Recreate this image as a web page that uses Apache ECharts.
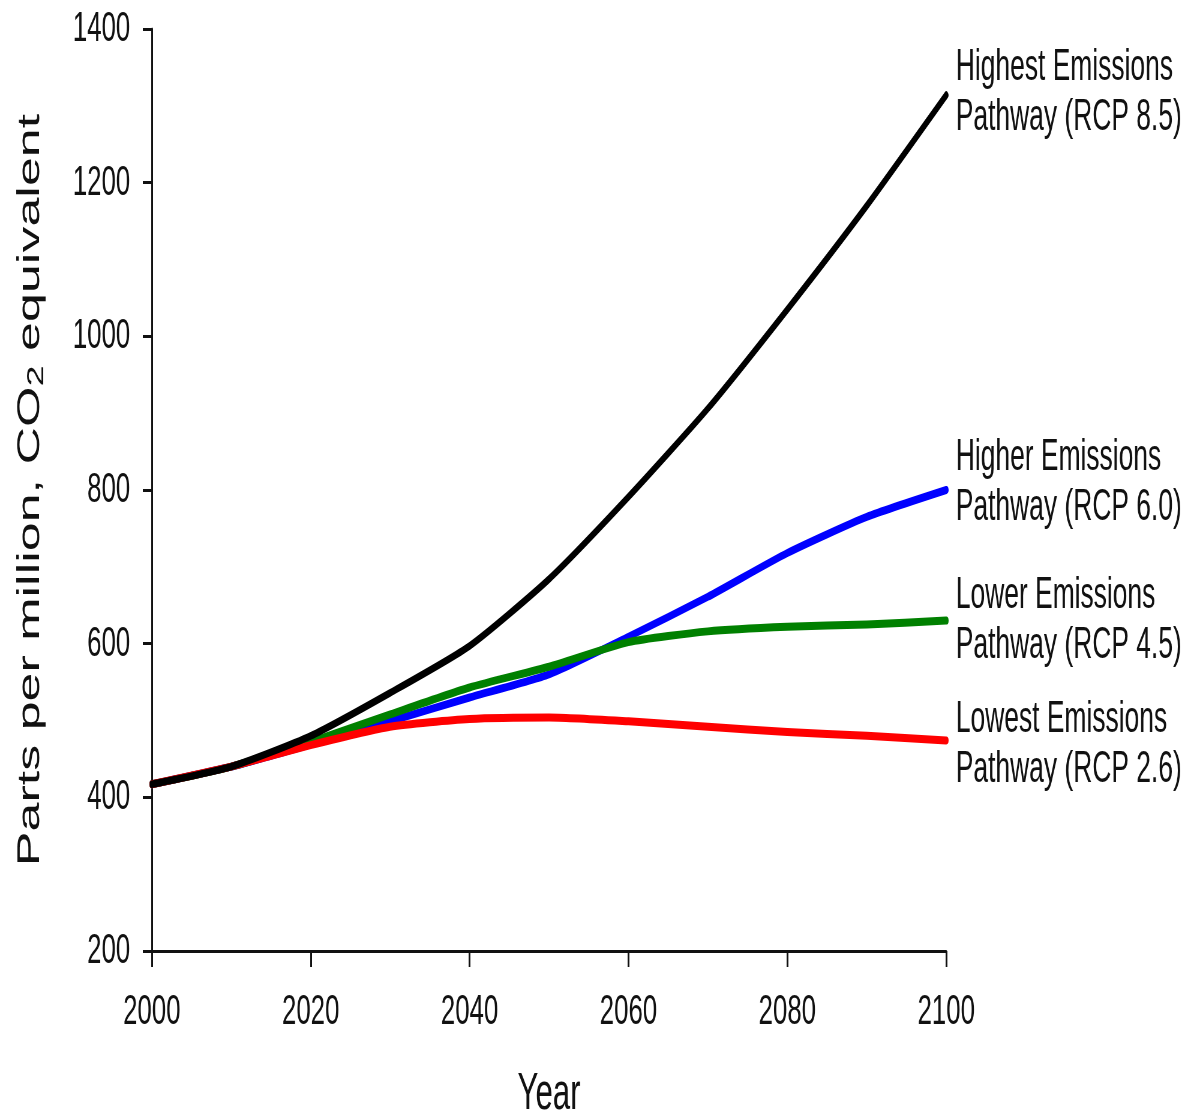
<!DOCTYPE html>
<html>
<head>
<meta charset="utf-8">
<script src="https://cdn.jsdelivr.net/npm/echarts@6/dist/echarts.min.js"></script>
<style>
html, body { margin: 0; padding: 0; overflow: hidden; background: #fff; width: 1191px; height: 1115px; }
#chart { width: 1985px; height: 1115px; transform: scaleX(0.6); transform-origin: 0 0; }
</style>
</head>
<body>
<div id="chart"></div>
<script>
// Data
const years = [2000, 2010, 2020, 2030, 2040, 2050, 2060, 2070, 2080, 2090, 2100];
const rcp85 = [417, 440, 480, 536, 597, 684, 791, 906, 1035, 1170, 1314];
const rcp60 = [417, 440, 469, 499, 530, 560, 609, 661, 718, 765, 800];
const rcp45 = [417, 440, 472, 508, 543, 570, 602, 616, 622, 625, 630];
const rcp26 = [417, 440, 468, 492, 502, 504, 499, 492, 485, 480, 474];
const seriesNames = [
  'Higher Emissions\nPathway (RCP 6.0)',
  'Lower Emissions\nPathway (RCP 4.5)',
  'Lowest Emissions\nPathway (RCP 2.6)',
  'Highest Emissions\nPathway (RCP 8.5)'
];
const yTicks = [200, 400, 600, 800, 1000, 1200, 1400];
const xTicks = [2000, 2020, 2040, 2060, 2080, 2100];

const FONT = "'Liberation Sans', Arial, sans-serif";
const chart = echarts.init(document.getElementById('chart'));

function pairs(vals) { return years.map((y, i) => [y, vals[i]]); }
function mkSeries(name, vals, color, width, dy) {
  return {
    name: name,
    type: 'line',
    data: pairs(vals),
    showSymbol: false,
    symbol: 'none',
    smooth: 0.2,
    lineStyle: { color: color, width: width, cap: 'round', join: 'round' },
    endLabel: {
      show: true,
      formatter: name,
      fontFamily: FONT,
      fontSize: 44,
      lineHeight: 50,
      color: '#111',
      distance: 16,
      offset: [0, dy],
      align: 'left'
    },
    emphasis: { disabled: true }
  };
}

chart.setOption({
  animation: false,
  backgroundColor: '#fff',
  grid: { left: 253, right: 408, top: 29, bottom: 164, containLabel: false, outerBoundsMode: 'none' },
  xAxis: {
    type: 'value',
    min: xTicks[0],
    max: xTicks[xTicks.length - 1],
    interval: 20,
    name: 'Year',
    nameLocation: 'middle',
    nameGap: 118,
    nameTextStyle: { fontFamily: FONT, fontSize: 52, color: '#111' },
    axisLine: { show: true, onZero: false, lineStyle: { color: '#111', width: 3 } },
    axisTick: { show: true, length: 16, lineStyle: { color: '#111', width: 3 } },
    axisLabel: { fontFamily: FONT, fontSize: 43, color: '#111', margin: 40, formatter: v => String(v) },
    splitLine: { show: false }
  },
  yAxis: {
    type: 'value',
    min: yTicks[0],
    max: yTicks[yTicks.length - 1],
    interval: 200,
    name: 'Parts per million, CO{sub|2} equivalent',
    nameLocation: 'middle',
    nameGap: 172,
    nameTextStyle: {
      fontFamily: FONT, fontSize: 52, color: '#111',
      rich: { sub: { fontFamily: FONT, fontSize: 38, color: '#111', padding: [22, 0, 0, 0] } }
    },
    axisLine: { show: true, onZero: false, lineStyle: { color: '#111', width: 3 } },
    axisTick: { show: true, length: 15, lineStyle: { color: '#111', width: 3 } },
    axisLabel: { fontFamily: FONT, fontSize: 43, color: '#111', margin: 36, formatter: v => String(v) },
    splitLine: { show: false }
  },
  series: [
    mkSeries(seriesNames[0], rcp60, '#0000ff', 8, -7),
    mkSeries(seriesNames[1], rcp45, '#008000', 8, 0),
    mkSeries(seriesNames[2], rcp26, '#ff0000', 8, 4),
    mkSeries(seriesNames[3], rcp85, '#000000', 7.5, -2)
  ]
});
</script>
</body>
</html>
